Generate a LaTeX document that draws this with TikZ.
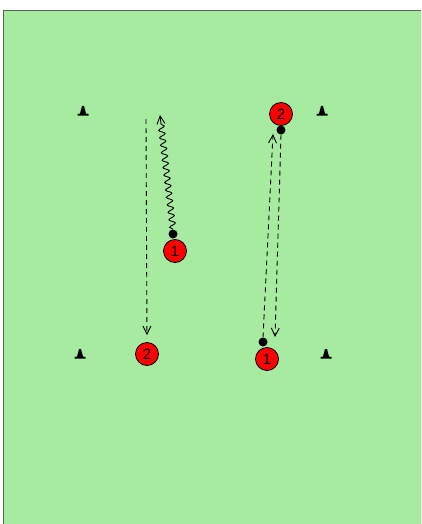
\documentclass[tikz,border=0pt]{standalone}
\usepackage{fontspec}
\setmainfont{Liberation Sans}
\usetikzlibrary{arrows.meta,decorations.pathmorphing}
\definecolor{field}{HTML}{A6EBA0}
\definecolor{edge}{HTML}{556655}
\begin{document}
\begin{tikzpicture}[x=1pt,y=-1pt,
  player/.style={circle,draw=black,line width=0.8pt,fill=red,minimum size=23pt,inner sep=0pt,font=\fontsize{15}{15}\selectfont},
  ballstyle/.style={circle,fill=black,minimum size=9pt,inner sep=0pt},
  conestyle/.style={fill=black},
  pass/.style={dashed,dash pattern=on 5pt off 4pt,line width=0.9pt,-{Straight Barb[length=8pt,width=8pt]}},
  dribble/.style={line width=0.9pt,decorate,decoration={snake,amplitude=3pt,segment length=7.5pt,post length=6pt},-{Straight Barb[length=8pt,width=8pt]}}]
\useasboundingbox (0,0) rectangle (421,524);
\fill[white] (0,0) rectangle (421,524);
\fill[field] (3.5,10.5) rectangle (421,524);
\draw[edge,line width=1.2pt] (3.5,524) -- (3.5,10.5) -- (421,10.5);
% cones
\foreach \n/\cx/\cy in {c1/83/111,c2/322/111,c3/80/354,c4/326/354}{
  \coordinate (\n) at (\cx,\cy);
  \begin{scope}[shift={(\cx,\cy)}]
  \fill[conestyle] (-5.5,4.5) -- (5.5,4.5) -- (5.5,3) -- (3,2.5) -- (1,-5) -- (-1,-5) -- (-3,2.5) -- (-5.5,3) -- cycle;
  \end{scope}
}
% players
\node[player] (p1l) at (175,251) {1};
\node[player] (p2l) at (147,354) {2};
\node[player] (p2r) at (281,114) {2};
\node[player] (p1r) at (267,359) {1};
% balls
\node[ballstyle] (b1) at (173,234) {};
\node[ballstyle] (b2) at (281,130) {};
\node[ballstyle] (b3) at (263,342) {};
% endpoints
\coordinate (w1) at (160,115);
\coordinate (d1s) at (146,119);
\coordinate (d2e) at (273,134);
\coordinate (d3e) at (275,337);
\draw[dribble] (b1.north) -- (w1);
\draw[pass,shorten >=7pt] (d1s) -- (p2l.north);
\draw[pass] (b3.north) -- (d2e);
\draw[pass] (b2.south) -- (d3e);
\end{tikzpicture}
\end{document}
